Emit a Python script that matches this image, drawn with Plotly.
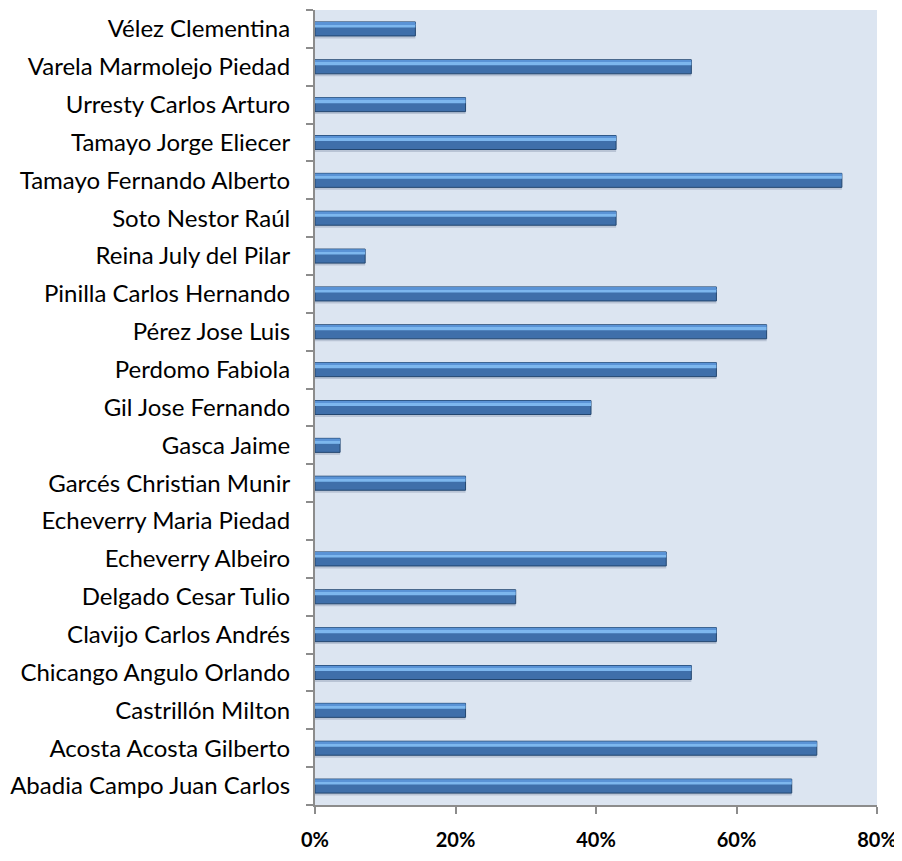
import plotly.graph_objects as go

names = [
    "Abadia Campo Juan Carlos", "Acosta Acosta Gilberto", "Castrillón Milton",
    "Chicango Angulo Orlando", "Clavijo Carlos Andrés", "Delgado Cesar Tulio",
    "Echeverry Albeiro", "Echeverry Maria Piedad", "Garcés Christian Munir",
    "Gasca Jaime", "Gil Jose Fernando", "Perdomo Fabiola", "Pérez Jose Luis",
    "Pinilla Carlos Hernando", "Reina July del Pilar", "Soto Nestor Raúl",
    "Tamayo Fernando Alberto", "Tamayo Jorge Eliecer", "Urresty Carlos Arturo",
    "Varela Marmolejo Piedad", "Vélez Clementina",
]
values = [
    0.6786, 0.7143, 0.2143, 0.5357, 0.5714, 0.2857, 0.5000, 0.0, 0.2143,
    0.0357, 0.3929, 0.5714, 0.6429, 0.5714, 0.0714, 0.4286, 0.7500, 0.4286,
    0.2143, 0.5357, 0.1429,
]
x_ticks = [0, 0.2, 0.4, 0.6, 0.8]
x_tick_labels = ["0%", "20%", "40%", "60%", "80%"]

edge_widths = [0 if v == 0 else 1 for v in values]

fig = go.Figure()
# soft shadow under each bar
fig.add_trace(go.Bar(
    x=values, y=names, orientation="h", width=0.07, offset=-0.25,
    marker=dict(color="rgba(120,135,160,0.35)", line=dict(width=0)),
    hoverinfo="skip",
))
# main bar body
fig.add_trace(go.Bar(
    x=values, y=names, orientation="h", width=0.37, offset=-0.185,
    marker=dict(color="#3F6FAA", line=dict(color="#23466F", width=edge_widths)),
    hoverinfo="x+y",
))
# bevel highlight stripes
fig.add_trace(go.Bar(
    x=values, y=names, orientation="h", width=0.09, offset=0.04,
    marker=dict(color="#7DB7EE", line=dict(width=0)), hoverinfo="skip",
))
fig.add_trace(go.Bar(
    x=values, y=names, orientation="h", width=0.05, offset=0.13,
    marker=dict(color="#5A93D6", line=dict(width=0)), hoverinfo="skip",
))

fig.update_layout(
    barmode="overlay",
    width=890, height=845,
    margin=dict(l=307, r=21, t=2, b=48, autoexpand=False),
    paper_bgcolor="white",
    plot_bgcolor="#DCE5F1",
    showlegend=False,
    font=dict(family="Lato, Calibri, sans-serif", color="black"),
)
fig.update_xaxes(
    range=[0, 0.8], tickvals=x_ticks, ticktext=x_tick_labels,
    showgrid=False, zeroline=False, automargin=False,
    showline=True, linecolor="#8C8C8C", linewidth=2,
    ticks="outside", ticklen=7, tickwidth=2, tickcolor="#8C8C8C",
    tickfont=dict(size=20, family="Lato, sans-serif", weight="bold"),
    ticklabelstandoff=9,
)
fig.update_yaxes(
    categoryorder="array", categoryarray=names,
    showgrid=False, zeroline=False, automargin=False,
    showline=True, linecolor="#8C8C8C", linewidth=2,
    ticks="outside", ticklen=7, tickwidth=2, tickcolor="#8C8C8C",
    tickson="boundaries",
    tickfont=dict(size=24, family="Lato, sans-serif"),
    ticklabelstandoff=18,
)
fig.write_html("out.html")
